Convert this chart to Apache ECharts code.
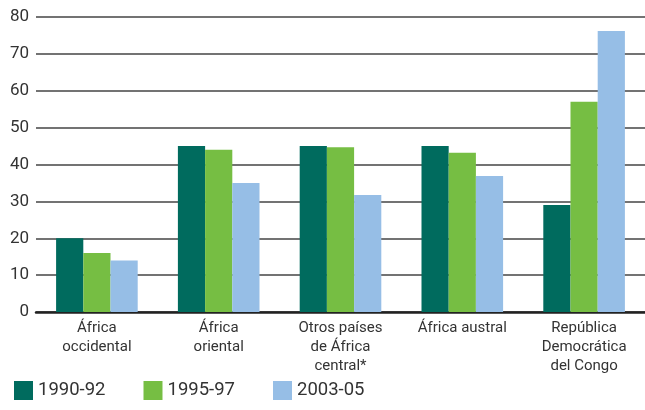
<!DOCTYPE html>
<html>
<head>
<meta charset="utf-8">
<script src="https://cdn.jsdelivr.net/npm/echarts@6/dist/echarts.min.js"></script>
<style>
  html, body { margin: 0; padding: 0; background: #fff; }
  #chart { width: 645px; height: 410px; }
</style>
</head>
<body>
<div id="chart"></div>
<script>
// regiones y series
var regiones = [
  "África\noccidental",
  "África\noriental",
  "Otros países\nde África\ncentral*",
  "África austral",
  "República\nDemocrática\ndel Congo"
];
var periodos = ["1990-92", "1995-97", "2003-05"];
var v1990 = [20, 45, 45, 45, 29];
var v1995 = [16, 44, 44.7, 43.2, 57];
var v2003 = [14, 35, 31.7, 36.9, 76.2];
var colores = ["#006B5E", "#76BE43", "#96BEE6"];

var myChart = echarts.init(document.getElementById("chart"));

var fuente = "Roboto";

function serie(nombre, datos, color) {
  return {
    name: nombre,
    type: "bar",
    data: datos,
    barGap: "0%",
    barCategoryGap: "33%",
    itemStyle: { color: color },
    animation: false
  };
}

var option = {
  animation: false,
  textStyle: { fontFamily: fuente },
  grid: { left: 36, right: 0, top: 17, bottom: 98 },
  legend: {
    data: periodos,
    left: 9,
    bottom: 5,
    itemWidth: 19,
    itemHeight: 19,
    itemGap: 38,
    icon: "rect",
    textStyle: { fontSize: 18.5, color: "#333", fontFamily: fuente }
  },
  xAxis: {
    type: "category",
    data: regiones,
    axisTick: { show: false },
    axisLine: { show: true, lineStyle: { color: "#222", width: 2.5 } },
    axisLabel: {
      color: "#333",
      fontSize: 15,
      lineHeight: 19,
      margin: 7,
      interval: 0,
      fontFamily: fuente
    }
  },
  yAxis: {
    type: "value",
    min: 0,
    max: 80,
    interval: 10,
    axisLine: { show: false },
    axisTick: { show: false },
    axisLabel: { color: "#333", fontSize: 17, margin: 7, fontFamily: fuente },
    splitLine: { lineStyle: { color: "#444", width: 1.5 } }
  },
  series: [
    serie(periodos[0], v1990, colores[0]),
    serie(periodos[1], v1995, colores[1]),
    serie(periodos[2], v2003, colores[2])
  ]
};

myChart.setOption(option);
</script>
</body>
</html>
